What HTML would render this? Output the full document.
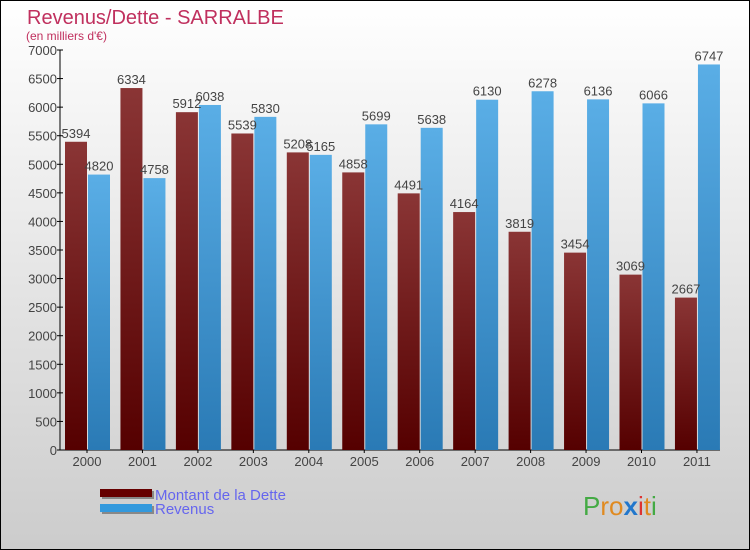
<!DOCTYPE html>
<html><head><meta charset="utf-8"><style>
body{margin:0}
svg{display:block;font-family:"Liberation Sans",sans-serif}
</style></head><body>
<svg id="c" width="750" height="550" xmlns="http://www.w3.org/2000/svg">
<defs>
<linearGradient id="bg" x1="0" y1="0" x2="0" y2="1"><stop offset="0" stop-color="#ffffff"/><stop offset="1" stop-color="#cccccc"/></linearGradient>
<linearGradient id="gd" x1="0" y1="0" x2="0" y2="1"><stop offset="0" stop-color="#8a3535"/><stop offset="1" stop-color="#550000"/></linearGradient>
<linearGradient id="gr" x1="0" y1="0" x2="0" y2="1"><stop offset="0" stop-color="#5aaee6"/><stop offset="1" stop-color="#2a7ab5"/></linearGradient>
</defs>
<rect x="0.5" y="0.5" width="749" height="549" fill="url(#bg)" stroke="#000"/>
<text x="27" y="24" font-size="20" fill="#c0305e">Revenus/Dette - SARRALBE</text>
<text x="26" y="40" font-size="12" fill="#c0305e">(en milliers d'€)</text>
<g id="plot"></g>
<rect x="102" y="491" width="52" height="8" fill="#888"/>
<rect x="100" y="489" width="52" height="8" fill="#660000"/>
<rect x="102" y="506" width="52" height="8" fill="#888"/>
<rect x="100" y="504" width="52" height="8" fill="#3399dd"/>
<text x="155" y="500" font-size="15" fill="#6666ee">Montant de la Dette</text>
<text x="155" y="514" font-size="15" fill="#6666ee">Revenus</text>
<text x="583" y="515" font-size="26" fill="#e08a20"><tspan fill="#44aa44">P</tspan>ro<tspan fill="#2277cc" font-weight="bold">x</tspan><tspan fill="#dd3333">i</tspan>t<tspan fill="#44aa44">i</tspan></text>
</svg>
<script>
const years=["2000","2001","2002","2003","2004","2005","2006","2007","2008","2009","2010","2011"];
const dette=[5394,6334,5912,5539,5208,4858,4491,4164,3819,3454,3069,2667];
const revenus=[4820,4758,6038,5830,5165,5699,5638,6130,6278,6136,6066,6747];
const ticks=[0,500,1000,1500,2000,2500,3000,3500,4000,4500,5000,5500,6000,6500,7000];
const NS="http://www.w3.org/2000/svg";
const g=document.getElementById('plot');
const x0=60,y0=450,yTop=50,vmax=7000,step=55.45;
function y(v){return y0-(v/vmax)*(y0-yTop);}
function xc(i){return 87+i*step;}
function mk(t,a){const e=document.createElementNS(NS,t);for(const k in a)e.setAttribute(k,a[k]);g.appendChild(e);return e;}
let ax=mk('line',{x1:x0,y1:yTop,x2:x0,y2:y0,stroke:'#000'});


let bx=mk('line',{x1:x0,y1:y0,x2:720,y2:y0,stroke:'#000'});


ticks.forEach(t=>{
 let l=mk('line',{x1:x0-3,x2:x0+3,y1:y(t),y2:y(t),stroke:'#000'});
 
 
 let tx=mk('text',{x:x0-3,y:y(t)+5,'font-size':13,'text-anchor':'end',fill:'#444'});
 tx.textContent=t;
 
 
});
years.forEach((yr,i)=>{
 const c=xc(i);
 let b1=mk('rect',{x:c-22,y:y(dette[i]),width:22,height:y0-y(dette[i]),fill:'url(#gd)'});
 
 
 let b2=mk('rect',{x:c+1,y:y(revenus[i]),width:22,height:y0-y(revenus[i]),fill:'url(#gr)'});
 
 
 let t1=mk('text',{x:c-11,y:y(dette[i])-4,'font-size':13,'text-anchor':'middle',fill:'#444'});
 t1.textContent=dette[i];
 
 
 let t2=mk('text',{x:c+12,y:y(revenus[i])-4,'font-size':13,'text-anchor':'middle',fill:'#444'});
 t2.textContent=revenus[i];
 
 
 let xt=mk('line',{x1:c,x2:c,y1:y0,y2:y0+3,stroke:'#000'});
 
 
 let xl=mk('text',{x:c,y:466,'font-size':13,'text-anchor':'middle',fill:'#444'});
 xl.textContent=yr;
 
 
});
</script>
</body></html>
